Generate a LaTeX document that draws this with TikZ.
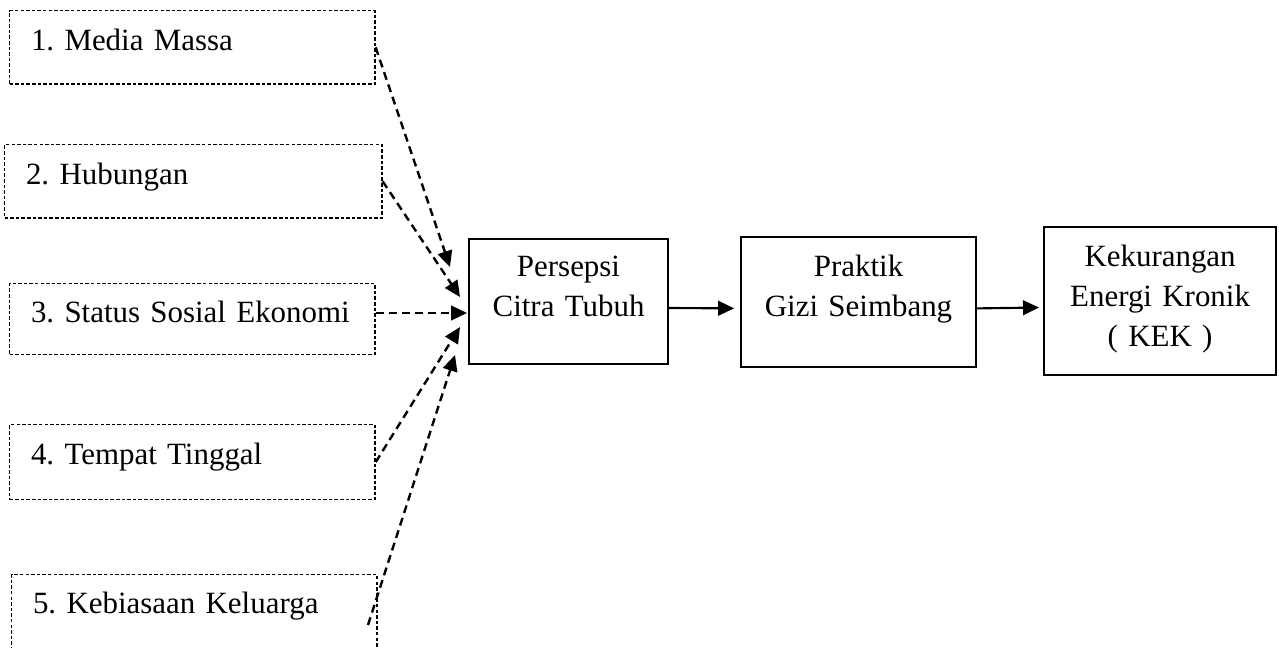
\documentclass[tikz,border=0pt]{standalone}
\usepackage{fontspec}
\setmainfont{Liberation Serif}
\usetikzlibrary{arrows.meta,calc}
\newcommand{\LINEPT}{0.8pt}
\newcommand{\DASHPT}{0.9pt}
\newcommand{\BOXPT}{0.5pt}
\frenchspacing
\tikzset{
	faktor/.style={draw, line width=\BOXPT, dash pattern=on 1.3pt off 0.8pt, anchor=north west, inner xsep=8pt, inner ysep=0pt, text width=121pt, align=left, text height=15pt, text depth=12.5pt},
	blok/.style={draw, line width=\LINEPT, anchor=north west, inner sep=0pt, align=center},
	panah/.style={->, line width=\LINEPT},
	panahputus/.style={->, line width=\DASHPT, dash pattern=on 3pt off 1.9pt},
}
\begin{document}
\begin{tikzpicture}[x=0.375pt,y=-0.375pt,font=\fontsize{11.6}{15}\selectfont,>={Triangle[length=6pt,width=5.5pt]}]
	\useasboundingbox (0,0) rectangle (1279,648);

		%% faktor
		\node[faktor] (m1) at (9,10) {1. Media Massa};
		\node[faktor, text width=125.5pt] (m2) at (4,144) {2. Hubungan};
		\node[faktor, text height=14.6pt, text depth=12pt] (m3) at (9,283) {3. Status Sosial Ekonomi};
		\node[faktor, text depth=13.1pt] (m4) at (9,424) {4. Tempat Tinggal};
		\node[faktor, text height=14.6pt, text depth=14pt] (m5) at (11,574) {5. Kebiasaan Keluarga};

		%% alur utama
		\node[blok, text width=74.6pt, text height=13.9pt, text depth=33pt] (persepsi) at (468,238) {Persepsi\\Citra Tubuh};
		\node[blok, text width=88.1pt, text height=14.6pt, text depth=34.1pt] (praktik) at (740,236) {Praktik\\Gizi Seimbang};
		\node[blok, text width=87pt, text height=14.6pt, text depth=40.9pt] (kek) at (1043,226) {Kekurangan\\Energi Kronik\\( KEK )};

		%% ujung panah
		\coordinate (t1) at (450,267);
		\coordinate (t2) at (460,297);
		\coordinate (t3) at (467,313);
		\coordinate (t4) at (460,327);
		\coordinate (t5) at (455,355);
		\coordinate (s5) at (368,625);

		\draw[panahputus] (m1.east) -- (t1);
		\draw[panahputus] (m2.east) -- (t2);
		\draw[panahputus] (m3.east |- t3) -- (t3);
		\draw[panahputus] (m4.east) -- (t4);
		\draw[panahputus] (s5) -- (t5);

		\draw[panah, shorten >=2.2pt] ([yshift=-2.4pt]persepsi.east) -- ([yshift=-2.4pt]praktik.west);
		\draw[panah, shorten >=1.5pt] ([yshift=-2.4pt]praktik.east) -- ([yshift=-2.4pt]kek.west);

\end{tikzpicture}
\end{document}
